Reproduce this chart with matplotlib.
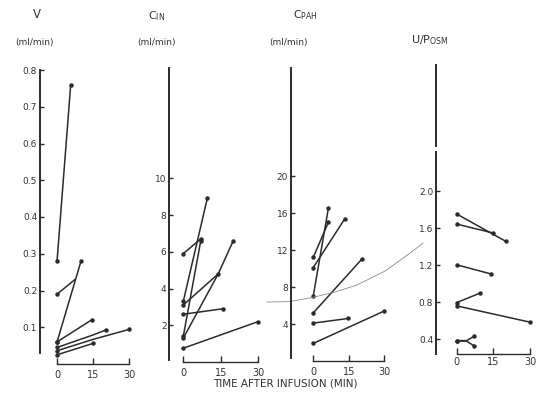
import matplotlib
matplotlib.use("Agg")
import matplotlib.pyplot as plt

# ---------------- data ----------------
time_ticks = [0, 15, 30]

# Panel 1: urine flow V (ml/min)
v_lines_t = [[0, 5.7], [0, 7.5], [0, 10], [0, 14.4], [0, 15, 20.5], [0, 15, 30], [0, 15]]
v_lines_y = [[0.28, 0.76], [0.19, 0.23], [0.06, 0.28], [0.06, 0.12],
             [0.045, 0.079, 0.093], [0.036, 0.067, 0.094], [0.025, 0.056]]
v_ticks = [0.1, 0.2, 0.3, 0.4, 0.5, 0.6, 0.7, 0.8]

# Panel 2: C_IN (ml/min)
cin_lines_t = [[0, 7], [0, 9.6], [0, 14, 20], [0, 7], [0, 14], [0, 16], [0, 30]]
cin_lines_y = [[5.9, 6.7], [3.3, 8.9], [3.1, 4.8, 6.6], [1.4, 6.6], [1.3, 4.8], [2.6, 2.9], [0.75, 2.2]]
cin_ticks = [2, 4, 6, 8, 10]

# Panel 3: C_PAH (ml/min)
cpah_lines_t = [[0, 6.4], [0, 6.4], [0, 13.4], [0, 20.5], [0, 14.8], [0, 30]]
cpah_lines_y = [[7.0, 16.5], [11.2, 15.0], [10.1, 15.4], [5.2, 11.0], [4.1, 4.6], [1.9, 5.4]]
cpah_ticks = [4, 8, 12, 16, 20]
pencil_curve_t = [-19.5, -9.9, -0.6, 9.2, 18.5, 30.4, 41.0, 46.5]
pencil_curve_y = [6.38, 6.43, 6.86, 7.46, 8.22, 9.73, 11.68, 12.76]

# Panel 4: U/P osm
up_lines_t = [[0, 20.2], [0, 15], [0, 13.9], [0, 9.5], [0, 30], [0, 4, 7], [0, 4, 7]]
up_lines_y = [[1.756, 1.459], [1.647, 1.55], [1.206, 1.108], [0.797, 0.899],
              [0.761, 0.585], [0.385, 0.385, 0.43], [0.38, 0.38, 0.33]]
up_ticks = [0.4, 0.8, 1.2, 1.6, 2.0]

# ---------------- figure ----------------
W, H = 538, 398
fig = plt.figure(figsize=(W / 100, H / 100), dpi=100)
fig.patch.set_facecolor("white")
INK = "#2b2b2b"
TXT = "#333333"


def px_axes(left, right, top, bottom):
    return fig.add_axes([left / W, 1 - bottom / H, (right - left) / W, (bottom - top) / H])


def style(ax, xlim, ylim, yticks, ylabels, spine_low, spine_high):
    ax.set_xlim(*xlim)
    ax.set_ylim(*ylim)
    ax.patch.set_alpha(0)
    for s in ("top", "right"):
        ax.spines[s].set_visible(False)
    ax.spines["left"].set_bounds(spine_low, spine_high)
    ax.spines["left"].set_linewidth(1.4)
    ax.spines["left"].set_color(INK)
    ax.spines["bottom"].set_bounds(0, 30)
    ax.spines["bottom"].set_linewidth(1.0)
    ax.spines["bottom"].set_color(INK)
    ax.set_xticks(time_ticks)
    ax.set_xticklabels([str(t) for t in time_ticks])
    ax.set_yticks(yticks)
    ax.set_yticklabels(ylabels)
    ax.tick_params(axis="x", direction="in", length=4, width=1.0, color=INK,
                   labelsize=7, labelcolor=TXT, pad=4)
    ax.tick_params(axis="y", direction="in", length=3, width=1.0, color=INK,
                   labelsize=6.5, labelcolor=TXT, pad=2)


def draw(ax, ts, ys, no_end_dot=()):
    for i, (t, y) in enumerate(zip(ts, ys)):
        ax.plot(t, y, color=INK, lw=1.1, solid_capstyle="round")
        mt = [t[0]] if i in no_end_dot else [t[0], t[-1]]
        my = [y[0]] if i in no_end_dot else [y[0], y[-1]]
        ax.plot(mt, my, ls="none", marker="o", ms=2.2, color=INK)


# Panel 1
ax1 = px_axes(40, 135, 70, 364)
style(ax1, (-7.1, 32.5), (0, 0.8), v_ticks, ["%.1f" % v for v in v_ticks], 0.03, 0.8)
draw(ax1, v_lines_t, v_lines_y, no_end_dot=(1,))

# Panel 2
ax2 = px_axes(169.3, 262, 68, 362)
style(ax2, (-5.6, 31.5), (0, 16.0), cin_ticks, [str(v) for v in cin_ticks], 0.1, 16.0)
draw(ax2, cin_lines_t, cin_lines_y)

# Panel 3
ax3 = px_axes(291, 390, 68, 361)
style(ax3, (-9.4, 32.5), (0, 31.7), cpah_ticks, [str(v) for v in cpah_ticks], 0.3, 31.7)
draw(ax3, cpah_lines_t, cpah_lines_y)
ax3.plot(pencil_curve_t, pencil_curve_y, color="#8a8a8a", lw=0.6, clip_on=False)

# Panel 4 (broken y axis)
ax4 = px_axes(436, 538, 65, 354)
style(ax4, (-8.5, 33.3), (0.24, 3.37), up_ticks, ["%.1f" % v for v in up_ticks], 0.24, 2.43)
ax4.plot([-8.5, -8.5], [2.49, 3.37], color=INK, lw=1.4, clip_on=False)
draw(ax4, up_lines_t, up_lines_y)
ax4.tick_params(axis="x", pad=2)

# Headers
def ftext(x, y, s, size, **kw):
    fig.text(x / W, 1 - y / H, s, ha="center", va="center", fontsize=size, color=TXT, **kw)

ftext(37, 15, "V", 8.5)
ftext(34, 43, "(ml/min)", 6.5)
ftext(157, 16, r"C$_{\mathregular{IN}}$", 8)
ftext(156, 43, "(ml/min)", 6.5)
ftext(305, 15, r"C$_{\mathregular{PAH}}$", 8)
ftext(288, 43, "(ml/min)", 6.5)
ftext(430, 40, r"U/P$_{\mathregular{OSM}}$", 8)
ftext(285, 383, "TIME AFTER INFUSION (MIN)", 7.5)

fig.savefig("out.png", dpi=100, facecolor="white")
